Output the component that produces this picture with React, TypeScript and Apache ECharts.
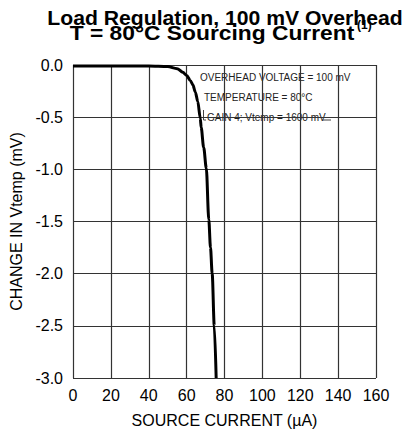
import React, { useEffect, useRef } from "react";
import * as echarts from "echarts";

// Data
const sourceCurrentUA = [0, 20, 40, 50, 55, 58, 60, 62, 63.3, 64.6, 65.9, 67.2, 67.7, 69.0, 70.4, 71.7, 72.6, 73.5, 74.6, 75.6];
const changeVtempMV = [-0.01, -0.01, -0.01, -0.015, -0.035, -0.07, -0.1, -0.15, -0.19, -0.26, -0.35, -0.51, -0.6, -0.79, -0.99, -1.48, -1.75, -2.0, -2.5, -3.0];

const xTicks = [0, 20, 40, 60, 80, 100, 120, 140, 160];
const yTicks = [0, -0.5, -1.0, -1.5, -2.0, -2.5, -3.0];

const titleLine1 = "Load Regulation, 100 mV Overhead";
const titleLine2 = "T = 80°C Sourcing Current";
const titleNote = "(1)";
const annotations = ["OVERHEAD VOLTAGE = 100 mV", "TEMPERATURE = 80°C", "GAIN 4; Vtemp = 1600 mV"];
const xAxisName = "SOURCE CURRENT (µA)";
const yAxisName = "CHANGE IN Vtemp (mV)";

const FONT = '"Liberation Sans", Arial, Helvetica, sans-serif';

export default function App() {
  const ref = useRef<HTMLDivElement>(null);

  useEffect(() => {
    if (!ref.current) return;
    const chart = echarts.init(ref.current, undefined, { renderer: "svg" });
    const data = sourceCurrentUA.map((x, i) => [x, changeVtempMV[i]]);
    const gridColor = "#333";

    chart.setOption({
      animation: false,
      backgroundColor: "#fff",
      grid: { left: 73, right: 29, top: 65, bottom: 56, containLabel: false },
      xAxis: {
        type: "value",
        min: xTicks[0],
        max: xTicks[xTicks.length - 1],
        interval: 20,
        name: xAxisName,
        nameLocation: "middle",
        nameGap: 34,
        nameTextStyle: { fontFamily: FONT, fontSize: 16, color: "#000" },
        axisLine: { show: false },
        axisTick: { show: false },
        axisLabel: { fontFamily: FONT, fontSize: 16, color: "#000", margin: 9, formatter: (v: number) => String(v) },
        splitLine: { show: true, lineStyle: { color: gridColor, width: 1.2 } },
      },
      yAxis: {
        type: "value",
        min: yTicks[yTicks.length - 1],
        max: yTicks[0],
        interval: 0.5,
        name: yAxisName,
        nameLocation: "middle",
        nameGap: 48,
        nameTextStyle: { fontFamily: FONT, fontSize: 16, color: "#000" },
        axisLine: { show: false },
        axisTick: { show: false },
        axisLabel: { fontFamily: FONT, fontSize: 16, color: "#000", margin: 10, formatter: (v: number) => v.toFixed(1) },
        splitLine: { show: true, lineStyle: { color: gridColor, width: 1.2 } },
      },
      series: [
        {
          type: "line",
          data,
          showSymbol: false,
          smooth: 0.3,
          smoothMonotone: "x",
          lineStyle: { color: "#000", width: 3 },
          clip: true,
        },
      ],
      graphic: [
        {
          type: "text",
          x: 225,
          y: 18,
          scaleX: 1.06,
          style: { text: titleLine1, font: `bold 20px ${FONT}`, fill: "#000", align: "center", verticalAlign: "middle", textAlign: "center", textVerticalAlign: "middle" },
        },
        {
          type: "text",
          x: 212,
          y: 33.5,
          scaleX: 1.14,
          style: { text: titleLine2, font: `bold 20px ${FONT}`, fill: "#000", align: "center", verticalAlign: "middle", textAlign: "center", textVerticalAlign: "middle" },
        },
        {
          type: "text",
          x: 357,
          y: 25,
          style: { text: titleNote, font: `bold 12px ${FONT}`, fill: "#000", align: "left", verticalAlign: "middle", textAlign: "left", textVerticalAlign: "middle" },
        },
        {
          type: "text",
          x: 200,
          y: 77,
          style: { text: annotations[0], font: `10px ${FONT}`, fill: "#222", align: "left", verticalAlign: "middle", textAlign: "left", textVerticalAlign: "middle" },
        },
        {
          type: "text",
          x: 204,
          y: 97,
          style: { text: annotations[1], font: `10px ${FONT}`, fill: "#222", align: "left", verticalAlign: "middle", textAlign: "left", textVerticalAlign: "middle" },
        },
        {
          type: "text",
          x: 207,
          y: 117,
          style: { text: annotations[2], font: `10px ${FONT}`, fill: "#222", align: "left", verticalAlign: "middle", textAlign: "left", textVerticalAlign: "middle" },
        },
        {
          type: "polyline",
          shape: { points: [[203.5, 110], [203.5, 120], [206, 120]] },
          style: { stroke: "#444", lineWidth: 1, fill: "none" },
        },
        {
          type: "line",
          shape: { x1: 323, y1: 120, x2: 331, y2: 120 },
          style: { stroke: "#444", lineWidth: 1 },
        },
      ],
    });

    return () => chart.dispose();
  }, []);

  return (
    <div
      ref={ref}
      style={{ position: "fixed", left: 0, top: 0, width: 405, height: 434, background: "#fff" }}
    />
  );
}
